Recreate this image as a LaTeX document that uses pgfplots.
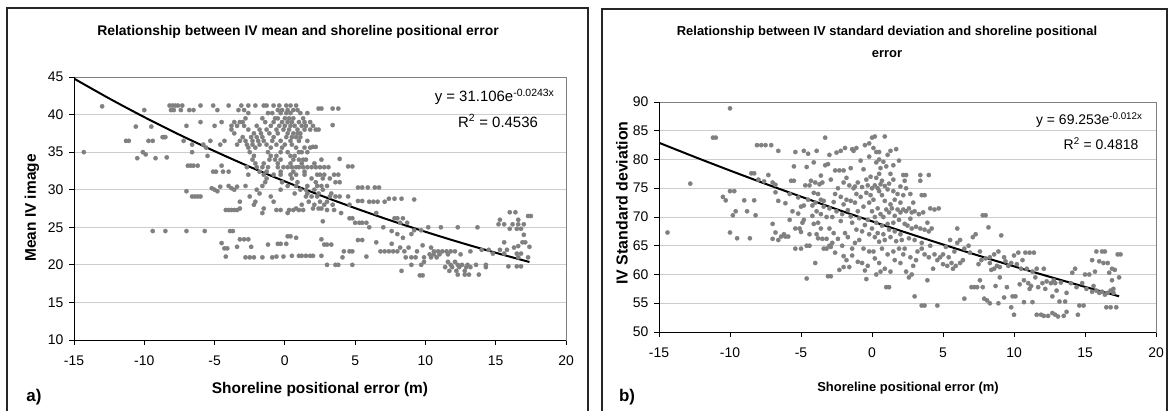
\documentclass[border=0pt]{standalone}
\usepackage{pgfplots}
\pgfplotsset{compat=1.18}
\usepackage{fontspec}
\setmainfont{Liberation Sans}
\definecolor{ptc}{RGB}{128,128,128}
\definecolor{gridc}{RGB}{205,205,205}
\pgfplotsset{chart/.style={
  scale only axis, anchor=south west,
  axis line style={draw=gray, line width=0.8bp},
  tick align=outside, xtick pos=left, ytick pos=left,
  major tick length=5bp,
  tick style={black, line width=0.8bp},
  ymajorgrids, grid style={gridc, line width=0.9bp},
  ticklabel style={font=\fontsize{14}{16}\selectfont},
  xticklabel style={yshift=-7bp},
  yticklabel style={xshift=-2bp},
  xmin=-15, xmax=20,
  xtick={-15,-10,...,20}, xticklabels={-15,-10,-5,0,5,10,15,20},
},
ptstyle/.style={only marks, color=ptc, mark=*, mark size=2.2bp, mark options={solid, draw=ptc, fill=ptc, line width=0.2bp}}}
\begin{document}
\begin{tikzpicture}[x=1bp,y=1bp]
\useasboundingbox (0,0) rectangle (1170,410);
\draw[line width=2bp, black!85] (7,-5) -- (7,402) -- (588,402) -- (588,-5);
\draw[line width=2bp, black!85] (602,-5) -- (602,401) -- (1167,401) -- (1167,-5);

% ---------------- panel a ----------------
\begin{axis}[chart, at={(74bp,70bp)}, width=492bp, height=263bp,
  ymin=10, ymax=45, ytick={10,15,...,45}, yticklabels={10,15,20,25,30,35,40,45}]
\addplot[ptstyle] coordinates {
(-14.3,35.0)(-13.0,41.1)
(-8.2,41.2)(-8.0,41.2)(-7.8,41.2)(-7.6,41.2)(-7.3,41.2)(-6.0,41.2)(-5.1,41.2)(-4.0,41.2)(-3.1,41.2)(-2.6,41.2)(-2.1,41.2)(-1.5,41.2)(-1.3,41.2)(-0.8,41.2)(-0.4,41.2)(0.1,41.2)(0.4,41.2)(0.8,41.2)(2.4,40.8)(2.6,40.8)
(-10.0,40.6)(-8.1,40.6)(-7.9,40.6)(-7.4,40.6)(-6.8,40.6)(-6.5,40.6)(-4.8,40.6)(-3.3,40.6)(-2.9,40.6)(-0.5,40.6)(-0.2,40.6)(0.2,40.6)(0.6,40.6)(0.9,40.6)(3.4,40.8)(3.8,40.8)
(-2.6,40.2)(-1.2,40.2)(-0.9,40.2)(-0.3,40.2)(0.1,40.2)(0.4,40.2)(1.1,40.2)(1.6,40.2)
(-2.8,39.5)(-1.6,39.5)(-0.7,39.5)(-0.5,39.5)(0.0,39.5)(0.3,39.5)(0.6,39.5)(1.3,39.5)
(-6.0,39.0)(-4.5,39.0)(-3.6,39.0)(-3.2,39.0)(-3.0,39.0)(-1.4,39.0)(-0.8,39.0)(-0.2,39.0)(0.2,39.0)(0.5,39.0)(1.0,39.0)(1.4,39.0)(1.8,39.0)
(-7.0,38.5)(-5.0,38.5)(-3.8,38.5)(-3.4,38.5)(-2.9,38.5)(-2.0,38.5)(-1.0,38.5)(-0.4,38.5)(0.0,38.5)(0.4,38.5)(0.7,38.5)(1.2,38.5)(1.5,38.5)(2.0,38.5)(3.4,38.6)
(-10.6,38.4)(-9.5,38.4)
(-3.8,38.0)(-2.6,38.0)(-1.8,38.0)(-1.3,38.0)(-0.6,38.0)(-0.1,38.0)(0.3,38.0)(0.9,38.0)(1.4,38.0)(1.8,38.0)(2.2,38.0)(2.4,38.0)
(-3.6,37.5)(-2.2,37.5)(-1.7,37.5)(-1.1,37.5)(-0.5,37.5)(0.2,37.5)(0.6,37.5)(0.9,37.5)(1.1,37.5)
(-8.7,37.0)(-8.6,37.0)(-8.5,37.0)(-3.0,37.0)(-2.4,37.0)(-2.0,37.0)(-1.6,37.0)(-0.8,37.0)(0.1,37.0)(0.5,37.0)(0.8,37.0)(1.1,37.0)
(-11.3,36.5)(-11.1,36.5)(-9.7,36.5)(-9.4,36.5)(-7.2,36.5)(-5.3,36.5)(-4.3,36.5)(-3.2,36.5)(-2.8,36.5)(-2.3,36.5)(-1.9,36.5)(-1.5,36.5)(-0.9,36.5)(-0.3,36.5)(0.4,36.5)(1.0,36.5)(1.6,36.5)
(-6.6,36.0)(-5.8,36.0)(-4.6,36.0)(-3.4,36.0)(-2.7,36.0)(-2.3,36.0)(-1.8,36.0)(-1.3,36.0)(-0.6,36.0)(0.0,36.0)(0.5,36.0)(2.0,35.7)(2.2,35.7)
(-5.6,35.6)(-2.6,35.6)(-2.1,35.6)(-1.0,35.6)(-0.2,35.6)(0.8,35.6)(1.4,35.6)(1.8,35.6)
(-10.1,35.0)(-6.6,35.0)(-2.5,35.0)(-1.2,35.0)(-0.3,35.0)(0.2,35.0)(1.0,35.0)(1.2,35.0)(1.6,35.0)
(-9.9,34.7)(-5.5,34.5)(-2.2,34.5)(-1.0,34.5)(-0.6,34.5)(0.4,34.5)(0.7,34.5)
(-10.5,34.2)(-9.2,34.2)(-8.4,34.3)
(-2.3,34.0)(-1.1,34.0)(-0.7,34.0)(-0.3,34.0)(0.6,34.0)(1.0,34.0)(1.3,34.0)(1.5,34.0)(2.6,34.0)(3.9,34.1)
(-2.1,33.5)(-1.5,33.5)(-0.5,33.5)(0.4,33.5)(1.2,33.5)(2.1,33.5)
(-6.9,33.2)(-6.7,33.2)(-6.5,33.2)(-6.2,33.2)(-4.5,33.2)
(-2.7,33.0)(-2.0,33.0)(-1.6,33.0)(-1.2,33.0)(-0.5,33.0)(-0.1,33.0)(0.2,33.0)(0.5,33.0)(0.8,33.0)(1.0,33.0)(1.3,33.0)(1.6,33.0)(1.9,33.0)(2.2,33.0)(2.5,33.0)(2.8,33.0)(3.1,33.0)(4.5,33.1)(4.8,33.1)
(-5.1,32.4)(-4.9,32.4)(-4.4,32.4)(-4.0,32.4)(-1.8,32.4)(-1.3,32.4)(-0.3,32.4)(0.6,32.4)(1.4,32.4)
(-2.6,32.0)(-1.5,32.0)(-0.8,32.0)(-0.3,32.0)(0.4,32.0)(0.8,32.0)(1.4,32.0)(2.3,32.0)(2.5,32.0)(2.8,32.0)(3.5,32.0)(3.8,32.0)
(-1.3,31.5)(0.5,31.5)(1.9,31.5)(2.7,31.5)(3.2,31.5)
(-1.4,31.0)(-0.2,31.0)(0.9,31.0)(2.2,31.0)(3.6,31.0)(3.9,31.0)
(-4.0,30.5)(-2.8,30.5)(-1.6,30.5)(0.2,30.5)(0.8,30.5)(1.6,30.5)(2.3,30.5)(2.6,30.5)(3.0,30.5)
(-5.2,30.2)(-5.0,30.0)(-4.6,30.4)(-3.8,30.2)(-3.4,30.4)(5.2,30.3)(5.5,30.3)(5.9,30.3)(6.4,30.3)(6.7,30.3)
(-3.6,30.0)(-2.0,30.0)(-0.3,30.0)(1.1,30.0)(1.5,30.0)(2.1,30.0)(2.7,30.0)
(-7.0,29.8)(-4.8,29.8)
(-1.8,29.5)(0.7,29.5)(1.6,29.5)(2.4,29.5)(3.3,29.5)
(-6.6,29.1)(-6.4,29.1)(-6.2,29.1)(-6.0,29.1)(-2.5,29.1)(-1.0,29.1)(1.5,29.1)(1.9,29.1)(2.3,29.1)(3.2,29.1)(3.6,29.1)(3.9,29.1)(4.5,29.1)
(7.4,28.8)(7.8,28.8)(8.3,28.8)(9.2,28.7)
(-3.2,28.4)(-2.1,28.4)(-0.8,28.4)(1.7,28.4)(2.5,28.4)(3.0,28.4)(5.2,28.5)(5.5,28.5)(6.0,28.4)(6.3,28.4)(6.6,28.4)(7.1,28.4)
(-2.2,28.0)(1.2,28.0)(2.1,28.0)(2.8,28.0)(3.4,28.0)(4.6,28.0)
(-3.2,27.5)(-1.5,27.5)(0.8,27.5)(2.0,27.5)(2.4,27.5)(2.6,27.5)
(-4.2,27.3)(-4.0,27.3)(-3.8,27.3)(-3.6,27.3)(-3.4,27.3)(-0.6,27.3)(-0.3,27.3)(0.3,27.3)(0.6,27.3)(1.0,27.3)(1.3,27.3)(3.0,27.3)(3.5,27.3)
(-1.6,26.9)(0.2,26.9)(4.0,26.9)(6.5,26.9)
(2.7,25.8)(4.6,26.2)(4.8,26.2)(7.8,26.2)(8.0,26.2)(8.4,26.2)
(5.0,25.6)(5.3,25.6)(5.5,25.6)(5.8,25.6)(8.2,25.6)(8.7,25.6)
(6.0,25.0)(7.0,25.0)(10.2,25.0)(11.1,25.0)(12.3,25.0)(13.7,25.0)
(-9.4,24.5)(-8.5,24.5)(-7.0,24.5)(-5.7,24.5)(-3.9,24.5)(-3.7,24.5)(7.6,24.5)(9.2,24.6)(9.7,24.6)
(8.0,24.1)(9.0,24.1)(17.0,24.0)
(0.2,23.8)(0.4,23.8)(0.8,23.6)(8.4,23.6)
(-3.2,23.4)(-2.9,23.4)(-2.6,23.4)(2.6,23.4)(5.2,23.3)(5.5,23.3)
(-4.5,22.9)(-1.2,22.7)(-0.5,22.8)(-0.3,22.8)(0.1,22.8)(2.8,22.7)(3.0,22.7)(3.3,22.7)(6.5,23.0)(7.6,22.8)(9.8,22.6)
(-4.3,22.2)(-4.1,22.2)(-3.4,22.4)(-2.4,22.4)(8.2,22.3)(8.8,22.3)(10.4,22.3)(16.3,22.3)(16.6,22.5)(17.4,22.4)
(4.2,21.8)(4.6,21.8)(4.8,21.8)(6.8,21.8)(7.1,21.8)(7.4,21.8)(7.7,21.8)(8.0,21.8)(8.5,21.8)(9.4,21.8)(10.6,21.8)(10.9,21.8)(11.2,21.8)(11.5,21.8)(11.8,21.8)(12.1,21.8)(13.2,21.8)(14.0,22.0)(14.5,22.0)(15.3,22.0)(15.8,22.0)
(10.3,21.4)(10.6,21.4)(11.0,21.4)(11.6,21.4)(12.5,21.4)(14.8,21.5)(15.6,21.5)(16.5,21.5)(16.8,21.5)
(-4.2,21.1)(-2.8,21.0)(-2.5,21.0)(-2.2,21.0)(-1.6,21.0)(-0.9,21.0)(-0.6,21.1)(-0.1,21.1)(0.5,21.2)(1.0,21.2)(1.2,21.2)(1.5,21.2)(1.8,21.2)(2.0,21.2)(2.6,21.2)(4.1,21.0)(5.8,21.1)(8.6,21.0)(9.0,21.0)(9.3,21.0)(9.9,21.0)(10.4,21.0)(10.8,21.0)(16.6,21.0)(17.3,21.0)
(9.9,20.4)(11.6,20.4)(12.1,20.4)
(3.0,20.0)(3.6,20.0)(3.8,20.0)(4.8,20.0)(9.0,20.0)(9.7,20.0)(11.8,20.0)(12.3,20.0)(12.6,20.0)(13.0,20.0)(13.6,20.0)(14.3,20.0)
(11.4,19.7)(11.9,19.7)(12.4,19.7)(12.9,19.7)(13.2,19.7)(14.3,19.7)(15.9,19.8)(16.5,19.8)(16.8,19.8)
(8.3,19.2)(11.7,19.2)(12.2,19.2)(12.8,19.2)
(9.6,18.6)(9.8,18.6)(12.3,18.7)(12.8,18.7)(13.1,18.7)(13.8,18.7)
(15.6,23.0)(16.9,23.0)(17.1,23.0)
(16.0,24.8)(16.5,24.8)(16.8,24.8)
(15.2,25.4)(15.6,25.4)(16.2,25.4)(16.6,25.4)(17.0,25.4)
(15.3,26.0)(16.6,26.0)
(17.3,26.5)(17.5,26.5)
(16.0,27.0)(16.4,27.0)
};
\addplot[black, line width=2bp, smooth] coordinates {
(-15,44.79)(-12.5,42.15)(-10,39.66)(-7.5,37.32)(-5,35.13)(-2.5,33.05)(0,31.106)(2.5,29.27)(5,27.55)(7.5,25.92)(10,24.40)(12.5,22.96)(15,21.61)(17.4,20.38)};
\draw[black, line width=0.9bp] (rel axis cs:0,1) -- (rel axis cs:0,0) -- (rel axis cs:1,0);
\end{axis}

% ---------------- panel b ----------------
\begin{axis}[chart, at={(659bp,78bp)}, width=497bp, height=230bp,
  ymin=50, ymax=90, ytick={50,55,...,90}, yticklabels={50,55,60,65,70,75,80,85,90}]
\addplot[ptstyle] coordinates {
(-14.4,67.3)(-12.8,75.8)(-10.0,88.9)(-11.2,83.8)(-11.0,83.8)(-10.0,67.3)(-10.5,73.5)(-10.3,72.9)(-10.0,74.5)(-9.7,74.5)(-9.8,70.3)(-9.6,71.0)(-9.5,66.3)(-9.0,72.9)(-8.6,66.3)(-8.8,71.0)(-8.3,72.9)(-8.2,70.3)(-8.5,77.6)(-8.3,77.6)(-8.1,82.5)(-7.8,82.5)(-7.5,82.5)(-7.1,82.5)(-8.0,76.5)(-7.6,76.2)(-7.3,77.3)(-7.0,76.0)(-6.8,75.6)(-6.6,81.5)(-7.0,68.8)(-6.8,67.3)(-7.0,66.2)(-6.6,66.0)(-6.4,66.6)(-6.1,66.6)(-5.9,66.6)(-6.8,74.3)(-6.6,72.8)(-6.1,72.4)(-5.8,74.0)(-5.7,76.3)(-5.5,76.3)(-5.5,78.8)(-5.4,81.3)(-5.2,73.4)(-5.6,71.0)(-5.4,68.0)(-5.1,68.0)(-5.0,67.4)(-5.4,64.5)(-5.0,64.5)(-4.8,69.5)(-4.6,65.0)(-4.4,65.0)(-4.6,59.3)(-4.8,81.5)(-4.5,81.0)(-4.3,76.3)(-4.6,78.7)(-4.4,75.5)(-4.5,73.0)(-4.2,72.0)(-4.0,72.5)(-4.0,62.0)(-3.9,81.5)(-3.7,75.7)(-3.5,76.0)(-3.6,70.5)(-3.4,71.8)(-3.2,66.2)(-3.5,66.2)(-3.4,64.5)(-3.2,64.5)(-3.0,65.0)(-2.9,64.8)(-2.8,65.5)(-3.6,68.0)(-3.4,72.8)(-3.3,79.0)(-3.1,79.2)(-3.0,80.8)(-3.3,83.8)(-3.1,59.7)(-2.9,59.7)(-2.7,67.2)(-2.8,70.0)(-2.5,71.0)(-2.6,74.0)(-2.4,75.0)(-2.6,78.1)(-2.3,78.1)(-2.0,78.1)(-2.5,81.2)(-2.2,81.5)(-1.9,82.0)(-2.3,60.8)(-2.0,61.3)(-1.8,62.5)(-1.6,61.3)(-1.4,63.3)(-1.9,67.2)(-1.7,66.5)(-1.5,70.1)(-1.3,75.0)(-1.6,75.5)(-1.2,75.3)(-1.0,76.0)(-1.4,81.8)(-1.1,82.0)(-1.3,81.5)(-0.8,73.5)(-0.9,69.8)(-0.7,67.5)(-0.6,64.5)(-0.7,62.0)(-0.5,60.7)(-0.4,59.2)(-1.4,64.5)(-1.0,71.0)(-0.5,82.5)(-0.2,82.8)(0.0,83.8)(0.2,84.0)(0.1,82.0)(0.3,81.3)(0.5,81.3)(0.9,84.0)(0.8,79.6)(1.0,78.8)(0.6,78.5)(0.3,79.5)(-0.3,75.5)(0.0,75.0)(0.2,75.5)(0.4,75.0)(0.6,75.7)(0.9,75.4)(1.2,75.8)(-0.1,77.0)(0.5,77.5)(1.3,77.5)(1.5,76.5)(1.7,81.8)(1.3,81.5)(1.9,79.8)(2.2,77.3)(2.4,77.3)(2.3,76.3)(2.0,75.3)(2.4,75.0)
(-0.2,72.5)(0.0,71.0)(0.2,70.0)(0.4,71.5)(0.6,70.5)(0.8,70.0)(1.0,71.3)(1.2,70.8)(1.4,71.5)(1.6,70.2)(1.8,71.3)(2.0,70.8)(2.2,71.3)(2.4,71.0)(2.6,71.5)(2.8,70.8)(-0.3,69.5)(0.3,69.0)(0.7,68.5)(1.1,68.8)(1.5,69.0)(1.9,69.5)(2.5,68.5)(2.8,68.0)(3.1,68.3)(3.4,68.0)(3.7,67.8)(4.0,67.5)(4.2,68.0)(-0.2,67.0)(0.2,66.5)(0.5,65.7)(0.9,66.0)(1.3,66.5)(1.7,65.8)(2.1,66.0)(2.6,66.3)(3.0,66.0)(3.5,65.5)(0.1,64.0)(0.7,64.5)(1.1,63.5)(1.5,64.0)(1.9,64.5)(2.3,64.5)(2.7,63.0)(3.1,62.5)(3.5,64.5)(3.7,63.5)(4.0,63.0)(4.4,63.5)(4.6,62.5)(0.5,62.0)(0.9,61.0)(0.6,60.5)(1.3,60.5)(1.0,57.8)(1.2,57.8)(2.4,60.5)(2.6,59.5)(2.8,60.0)(3.0,56.2)(3.5,54.6)(3.7,54.6)(3.9,59.0)(4.6,54.6)(4.1,71.5)(4.4,71.3)(4.7,71.5)(3.5,73.8)(3.7,73.8)(3.4,76.3)(3.4,77.3)(4.0,77.3)(2.9,72.5)(2.7,74.0)
(-3.8,69.0)(-3.0,68.0)(-2.2,69.3)(-2.0,72.2)(-1.8,73.0)(-1.2,72.5)(-0.6,71.8)(-4.8,72.0)(-4.2,70.2)(-3.9,67.0)(-2.1,65.0)(-1.1,67.8)(-1.0,62.2)(-0.2,64.0)(-2.6,63.8)(-3.8,66.3)(-4.9,69.0)(-5.2,70.6)(-4.1,74.2)(-2.9,76.5)(-1.8,76.8)(-0.6,78.3)(0.7,73.8)(1.6,73.0)(-0.4,74.2)(-1.4,69.0)
(-4.0,76.0)(-3.8,74.0)(-3.6,73.0)(-3.2,70.0)(-3.0,71.5)(-2.7,72.6)(-2.2,73.5)(-2.1,70.5)(-1.7,71.2)(-1.5,72.8)(-1.1,74.0)(-0.7,75.2)(-0.4,76.5)(-0.1,73.8)(0.1,73.0)(0.3,76.8)(0.5,74.5)(0.7,76.3)(0.9,72.8)(1.1,74.8)(1.3,72.2)(1.5,74.5)(1.8,74.0)(2.0,72.5)(2.2,73.8)(-0.9,66.0)(-0.5,68.6)(0.0,68.0)(0.4,67.2)(0.8,67.0)(1.2,67.8)(1.6,67.5)(2.0,67.0)(2.3,68.8)(2.7,69.7)(3.0,71.0)(3.3,70.5)(3.6,70.8)(3.9,69.0)(-4.4,67.0)(-4.1,68.8)(-3.9,71.0)(-2.4,66.2)(-2.0,63.2)(-1.2,65.5)(-0.3,61.5)(0.2,62.8)(0.3,60.0)(1.6,62.5)(2.0,62.0)(4.3,61.0)(4.8,63.0)(5.2,64.8)(5.7,61.0)(6.0,65.5)(6.4,62.5)(4.1,65.0)(3.2,64.0)(2.9,61.5)(2.2,63.5)(-5.0,71.8)(-5.8,69.5)(-6.2,67.0)(-4.7,75.5)(-4.1,79.5)(-3.6,77.2)(-2.0,76.0)(-1.5,78.5)(-0.8,79.8)(0.5,80.0)(1.1,80.8)(1.5,79.0)(-0.2,80.5)
(5.0,61.8)(5.3,61.5)(5.6,62.0)(5.9,61.5)(6.2,62.0)(5.0,63.5)(5.4,63.0)(5.8,64.0)(6.2,66.0)(5.5,66.0)(6.0,68.0)(6.5,64.5)(6.8,65.0)(6.9,63.8)(6.5,55.8)(7.0,57.8)(7.2,57.8)(7.4,57.8)(7.1,66.5)(7.3,67.0)(7.6,64.0)(7.8,70.3)(8.0,70.3)(8.2,68.2)(7.5,61.8)(7.7,62.5)(8.0,62.8)(8.3,62.0)(8.6,61.0)(8.8,61.5)(9.0,61.3)(8.3,63.0)(8.6,63.5)(8.9,64.0)(9.3,63.0)(9.1,66.8)(9.4,62.3)(9.6,61.5)(7.8,57.8)(7.9,55.8)(8.1,55.5)(8.3,55.0)(8.7,58.0)(8.9,55.0)(9.3,56.0)(9.5,57.8)(9.8,54.3)(10.0,53.0)(9.9,56.2)(10.1,56.2)(10.3,63.8)(10.0,63.3)(10.6,62.5)(10.8,63.8)(11.1,63.8)(11.4,63.8)(10.5,61.0)(10.9,61.0)(11.3,60.5)(11.6,61.0)(10.7,59.0)(11.0,58.5)(11.2,58.0)(10.7,55.2)(11.3,55.2)(11.1,57.5)(11.7,57.8)(12.0,58.5)(12.3,58.8)(12.6,58.5)(12.9,58.5)(12.2,57.5)(11.6,53.0)(11.9,53.0)(12.1,52.8)(12.4,52.8)(12.7,53.3)(12.9,53.0)(13.1,52.7)(13.5,52.8)(13.7,53.5)(13.2,55.3)(13.6,55.3)(12.7,56.2)(13.0,57.2)(12.1,61.0)(13.7,56.8)(14.0,58.5)(14.3,61.0)(14.4,57.8)(14.5,53.0)(14.6,54.6)(14.9,54.6)(14.8,58.5)(15.0,60.0)(15.3,60.0)(15.5,57.0)(15.8,57.2)(16.0,56.8)(15.7,60.5)(16.0,62.3)(16.2,64.0)(16.4,64.0)(16.3,62.0)(16.6,62.0)(15.8,64.0)(16.7,60.3)(16.9,61.0)(17.1,60.8)(16.6,56.8)(16.8,57.2)(17.0,56.8)(16.5,54.3)(16.8,54.3)(17.2,54.3)(17.3,63.5)(17.5,63.5)(17.4,59.5)(16.9,59.0)(15.5,62.5)(16.4,56.5)(7.6,59.0)
(12.8,59.0)(13.3,58.6)(11.5,59.5)(10.4,58.3)(9.0,59.5)(8.4,60.8)(9.8,62.0)(10.2,61.8)(14.1,60.3)(15.1,57.5)(15.6,58.0)(16.2,57.0)(17.0,57.5)
};
\addplot[black, line width=2bp, smooth] coordinates {
(-15,82.91)(-12.5,80.46)(-10,78.08)(-7.5,75.77)(-5,73.54)(-2.5,71.36)(0,69.253)(2.5,67.21)(5,65.22)(7.5,63.29)(10,61.42)(12.5,59.61)(15,57.85)(17.4,56.21)};
\draw[black, line width=0.9bp] (rel axis cs:0,1) -- (rel axis cs:0,0) -- (rel axis cs:1,0);
\end{axis}

% ---------------- texts ----------------
\node[font=\bfseries\fontsize{14}{16}\selectfont] at (298,378) {Relationship between IV mean and shoreline positional error};
\node[font=\bfseries\fontsize{15.5}{18}\selectfont] at (320,20) {Shoreline positional error (m)};
\node[font=\bfseries\fontsize{15.5}{18}\selectfont, rotate=90] at (32,202) {Mean IV image};
\node[font=\bfseries\fontsize{17}{20}\selectfont] at (34,13) {a)};
\node[font=\fontsize{15}{18}\selectfont, anchor=east] at (558,313) {y = 31.106e\textsuperscript{-0.0243x}};
\node[font=\fontsize{15}{18}\selectfont] at (498,289) {R\textsuperscript{2} = 0.4536};

\node[font=\bfseries\fontsize{13}{15}\selectfont] at (887,378) {Relationship between IV standard deviation and shoreline positional};
\node[font=\bfseries\fontsize{13}{15}\selectfont] at (887,356) {error};
\node[font=\bfseries\fontsize{13}{15}\selectfont] at (908,22) {Shoreline positional error (m)};
\node[font=\bfseries\fontsize{16}{18}\selectfont, rotate=90] at (622,207) {IV Standard deviation};
\node[font=\bfseries\fontsize{17}{20}\selectfont] at (627,13) {b)};
\node[font=\fontsize{14}{16}\selectfont, anchor=east] at (1146,290) {y = 69.253e\textsuperscript{-0.012x}};
\node[font=\fontsize{14}{16}\selectfont] at (1101,266) {R\textsuperscript{2} = 0.4818};
\end{tikzpicture}
\end{document}
